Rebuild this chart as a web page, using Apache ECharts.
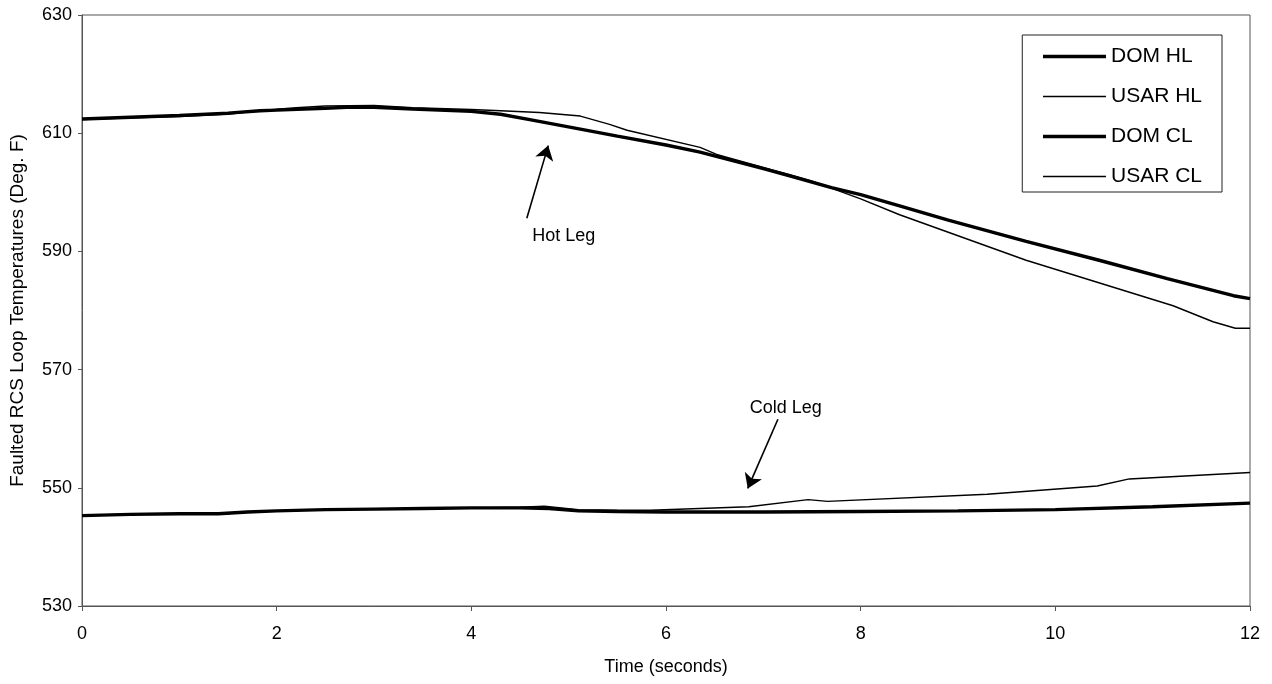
<!DOCTYPE html>
<html>
<head>
<meta charset="utf-8">
<script src="https://cdn.jsdelivr.net/npm/echarts@6/dist/echarts.min.js"></script>
<style>html,body{margin:0;padding:0;background:#fff}#c{width:1272px;height:684px}</style>
</head>
<body>
<div id="c"></div>
<script>
// ---- data ----
const xTicks = [0, 2, 4, 6, 8, 10, 12];
const yTicks = [530, 550, 570, 590, 610, 630];

const domHlT = [0, 0.5, 1.0, 1.5, 1.83, 2.0, 2.5, 2.72, 3.0, 3.4, 4.0, 4.3, 4.6, 5.12, 5.5, 6.0, 6.35, 7.0, 7.27, 7.7, 8.0, 8.4, 8.9, 9.7, 10.45, 11.15, 11.83, 12.0];
const domHlV = [612.4, 612.7, 613.0, 613.4, 613.8, 613.9, 614.2, 614.4, 614.4, 614.1, 613.7, 613.2, 612.3, 610.7, 609.5, 608.0, 606.8, 604.0, 602.8, 600.8, 599.6, 597.7, 595.3, 591.7, 588.5, 585.4, 582.5, 582.0];

const usarHlT = [0, 0.5, 1.0, 1.5, 1.8, 2.2, 2.5, 3.0, 3.4, 4.0, 4.3, 4.7, 5.12, 5.42, 5.6, 6.35, 6.52, 7.0, 7.5, 8.0, 8.4, 9.7, 11.21, 11.62, 11.85, 12.0];
const usarHlV = [612.3, 612.6, 612.8, 613.2, 613.8, 614.3, 614.6, 614.7, 614.3, 614.0, 613.8, 613.5, 612.9, 611.5, 610.5, 607.6, 606.4, 604.2, 601.9, 598.9, 596.2, 588.5, 580.8, 578.1, 577.0, 577.0];

const domClT = [0, 0.5, 1.0, 1.4, 1.7, 2.0, 2.5, 3.0, 3.5, 4.0, 4.5, 4.8, 5.1, 5.5, 6.0, 7.0, 8.0, 9.0, 10.0, 11.0, 12.0];
const domClV = [545.3, 545.5, 545.6, 545.6, 545.9, 546.1, 546.3, 546.4, 546.5, 546.6, 546.6, 546.5, 546.1, 546.0, 545.9, 545.9, 546.0, 546.1, 546.3, 546.8, 547.4];

const usarClT = [0, 0.5, 1.0, 1.4, 1.7, 2.0, 2.5, 3.0, 3.5, 4.0, 4.5, 4.75, 5.1, 5.5, 5.84, 6.85, 7.46, 7.66, 9.3, 10.43, 10.76, 12.0];
const usarClV = [545.4, 545.5, 545.6, 545.5, 545.9, 546.1, 546.3, 546.4, 546.5, 546.6, 546.7, 546.9, 546.3, 546.2, 546.2, 546.8, 548.0, 547.7, 548.9, 550.3, 551.5, 552.6];

// annotations (data coordinates)
const hotLegLabel = [4.95, 592.6];
const hotLegArrow = [[4.57, 595.6], [4.79, 607.9]];
const coldLegLabel = [7.23, 563.5];
const coldLegArrow = [[7.15, 561.6], [6.84, 549.9]];

const zip = (t, v) => t.map((x, i) => [x, v[i]]);
const FONT = 'Liberation Sans, Arial, sans-serif';
const THICK = 3.4, THIN = 1.4;
const hidden = {color: 'rgba(0,0,0,0)', borderColor: 'rgba(0,0,0,0)', borderWidth: 0, opacity: 0};

const chart = echarts.init(document.getElementById('c'), null, {renderer: 'canvas'});
chart.setOption({
  animation: false,
  backgroundColor: '#fff',
  grid: {left: 82, right: 22, top: 15, bottom: 78, show: true, borderColor: '#555', borderWidth: 1, backgroundColor: 'transparent'},
  legend: {
    orient: 'vertical', right: 50, top: 35,
    data: [
      {name: 'DOM HL', itemStyle: hidden, lineStyle: {color: '#000', width: THICK}},
      {name: 'USAR HL', itemStyle: hidden, lineStyle: {color: '#000', width: THIN}},
      {name: 'DOM CL', itemStyle: hidden, lineStyle: {color: '#000', width: THICK}},
      {name: 'USAR CL', itemStyle: hidden, lineStyle: {color: '#000', width: THIN}}
    ],
    itemStyle: hidden,
    itemWidth: 63, itemHeight: 14, itemGap: 19,
    padding: [11, 20, 5, 19],
    borderColor: '#222', borderWidth: 1, backgroundColor: '#fff',
    textStyle: {fontFamily: FONT, fontSize: 21, color: '#000'}
  },
  xAxis: {
    type: 'value', min: 0, max: 12, interval: 2,
    name: 'Time (seconds)', nameLocation: 'middle', nameGap: 52,
    nameTextStyle: {fontFamily: FONT, fontSize: 18, color: '#000'},
    axisLine: {lineStyle: {color: '#555', width: 1}},
    axisTick: {show: true, length: 5, lineStyle: {color: '#555'}},
    axisLabel: {fontFamily: FONT, fontSize: 18, color: '#000', margin: 19, formatter: v => xTicks.includes(v) ? String(v) : ''},
    splitLine: {show: false}
  },
  yAxis: {
    type: 'value', min: 530, max: 630, interval: 20,
    name: 'Faulted RCS Loop Temperatures (Deg. F)', nameLocation: 'middle', nameGap: 55,
    nameTextStyle: {fontFamily: FONT, fontSize: 19, color: '#000'},
    axisLine: {show: true, lineStyle: {color: '#555', width: 1}},
    axisTick: {show: true, length: 4, lineStyle: {color: '#555'}},
    axisLabel: {fontFamily: FONT, fontSize: 18, color: '#000', margin: 10, formatter: v => yTicks.includes(v) ? String(v) : ''},
    splitLine: {show: false}
  },
  series: [
    {name: 'DOM HL', type: 'line', data: zip(domHlT, domHlV), showSymbol: false, symbol: 'none',
     lineStyle: {color: '#000', width: THICK}, itemStyle: {color: '#000'}, z: 2},
    {name: 'USAR HL', type: 'line', data: zip(usarHlT, usarHlV), showSymbol: false, symbol: 'none',
     lineStyle: {color: '#000', width: THIN}, itemStyle: {color: '#000'}, z: 3},
    {name: 'DOM CL', type: 'line', data: zip(domClT, domClV), showSymbol: false, symbol: 'none',
     lineStyle: {color: '#000', width: THICK}, itemStyle: {color: '#000'}, z: 2,
     markLine: {
       silent: true, symbol: ['none', 'arrow'], symbolSize: 14,
       lineStyle: {color: '#000', width: 1.6, type: 'solid'}, label: {show: false},
       data: [
         [{coord: hotLegArrow[0]}, {coord: hotLegArrow[1]}],
         [{coord: coldLegArrow[0]}, {coord: coldLegArrow[1]}]
       ]
     },
     markPoint: {
       silent: true, symbol: 'circle', symbolSize: 0,
       label: {show: true, position: 'inside', color: '#000', fontFamily: FONT, fontSize: 18},
       data: [
         {coord: hotLegLabel, label: {formatter: 'Hot Leg'}},
         {coord: coldLegLabel, label: {formatter: 'Cold Leg'}}
       ]
     }},
    {name: 'USAR CL', type: 'line', data: zip(usarClT, usarClV), showSymbol: false, symbol: 'none',
     lineStyle: {color: '#000', width: THIN}, itemStyle: {color: '#000'}, z: 3}
  ]
});
</script>
</body>
</html>
